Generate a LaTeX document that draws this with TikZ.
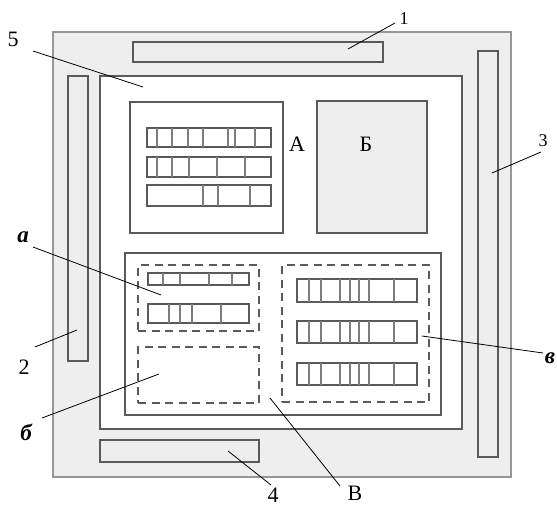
\documentclass[tikz,border=0pt]{standalone}
\usepackage{fontspec}
\setmainfont{Liberation Serif}
\usetikzlibrary{positioning}
\definecolor{plangray}{RGB}{238, 238, 238}
\definecolor{edgegray}{RGB}{150, 150, 150}
\definecolor{linegray}{RGB}{90, 90, 90}
\definecolor{cellgray}{RGB}{125, 125, 125}
% one row of cells: x1, y1, x2, y2, divider positions
\newcommand{\cellrow}[5]{%
  \draw[cellbox] (#1,#2) rectangle (#3,#4);
  \foreach \x in {#5} \draw[divline] (\x,#2) -- (\x,#4);}

\begin{document}
\begin{tikzpicture}[
  x=1pt, y=-1pt,
  block/.style={rectangle, inner sep=0pt, outer sep=0pt},
  base/.style={block, draw=edgegray, fill=plangray, line width=1.6pt},
  strip/.style={block, draw=linegray, fill=plangray, line width=1.6pt},
  panel/.style={block, draw=linegray, fill=white, line width=1.7pt},
  dashbox/.style={block, draw=linegray, line width=2pt,
                  dash pattern=on 8pt off 5.5pt},
  cellbox/.style={draw=linegray, fill=white, line width=1.5pt},
  divline/.style={draw=cellgray, line width=1.3pt},
  leader/.style={draw=black, line width=0.8pt},
  lbl/.style={inner sep=0pt, font=\fontsize{22}{22}\selectfont},
  smlbl/.style={lbl, font=\fontsize{18}{18}\selectfont},
  itlbl/.style={lbl, font=\fontsize{23}{23}\selectfont\bfseries\itshape}
]
\useasboundingbox (0,0) rectangle (557,506);

% -- Plan ----------------------------------------------------------------
\node[base, minimum width=458pt, minimum height=445pt] (plan) at (282,254.5) {};

\node[strip, minimum width=250pt, minimum height=20pt]  (s1) at (258,52) {};
\node[strip, minimum width=20pt,  minimum height=285pt] (s2) at (78,218.5) {};
\node[strip, minimum width=20pt,  minimum height=406pt] (s3) at (488,254) {};
\node[strip, minimum width=159pt, minimum height=22pt]  (s4) at (179.5,451) {};

\node[panel, minimum width=362pt, minimum height=353pt] (hall) at (281,252.5) {};

\node[panel, minimum width=153pt, minimum height=131pt] (zoneA) at (206.5,167.5) {};
\node[panel, fill=plangray, minimum width=110pt, minimum height=132pt]
  (zoneB) at (372,167) {};
\node[panel, minimum width=316pt, minimum height=162pt] (zoneV) at (283,334) {};

\node[dashbox, minimum width=121pt, minimum height=66pt]  (da) at (198.5,298) {};
\node[dashbox, minimum width=121pt, minimum height=56pt]  (db) at (198.5,375) {};
\node[dashbox, minimum width=147pt, minimum height=137pt] (dv) at (355.5,333.5) {};

% -- Rows of cells -------------------------------------------------------
\cellrow{147}{128}{271}{147}{157,172,188,203,228,235,255}
\cellrow{147}{157}{271}{177}{157,172,189,217,245}
\cellrow{147}{185}{271}{206}{203,218,250}

\cellrow{148}{273}{249}{285}{163,180,209,232}
\cellrow{148}{304}{249}{323}{169,180,192,221}

\cellrow{297}{279}{417}{302}{309,321,340,350,359,369,394}
\cellrow{297}{321}{417}{343}{309,321,340,350,359,369,394}
\cellrow{297}{363}{417}{385}{309,321,340,350,359,369,394}

% -- Leader ends ---------------------------------------------------------
\coordinate (p1) at (348,49);   \coordinate (q1) at (395,23);
\coordinate (p2) at (77,330);   \coordinate (q2) at (35,347);
\coordinate (p3) at (492,173);  \coordinate (q3) at (541,152);
\coordinate (p4) at (228,451);  \coordinate (q4) at (271,485);
\coordinate (p5) at (143,87);   \coordinate (q5) at (33,51);
\coordinate (pa) at (161,295);  \coordinate (qa) at (33,247);
\coordinate (pb) at (159,374);  \coordinate (qb) at (42,418);
\coordinate (pv) at (422,336);  \coordinate (qv) at (543,353);
\coordinate (pV) at (270,398);  \coordinate (qV) at (340,486);

\foreach \k in {1,2,3,4,5,a,b,v,V}
  \draw[leader] (p\k) -- (q\k);

% -- Labels --------------------------------------------------------------
\node[smlbl] (n1) at (404,19)  {1};
\node[lbl]   (n2) at (24,367)  {2};
\node[smlbl] (n3) at (543,141) {3};
\node[lbl]   (n4) at (273,495) {4};
\node[lbl]   (n5) at (13,39)   {5};
\node[lbl]   (nA) at (297,144) {А};
\node[lbl]   (nB) at (366,144) {Б};
\node[lbl]   (nV) at (355,493) {В};
\node[itlbl] (na) at (23,237)  {а};
\node[itlbl] (nb) at (26,432)  {б};
\node[itlbl] (nv) at (550,358) {в};

\end{tikzpicture}
\end{document}
